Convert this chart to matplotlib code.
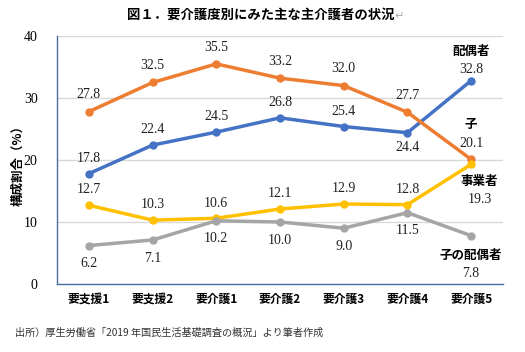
import matplotlib
matplotlib.use("Agg")
import matplotlib.pyplot as plt

categories = ["要支援1", "要支援2", "要介護1", "要介護2", "要介護3", "要介護4", "要介護5"]
spouse = [17.8, 22.4, 24.5, 26.8, 25.4, 24.4, 32.8]
child = [27.8, 32.5, 35.5, 33.2, 32.0, 27.7, 20.1]
business = [12.7, 10.3, 10.6, 12.1, 12.9, 12.8, 19.3]
child_spouse = [6.2, 7.1, 10.2, 10.0, 9.0, 11.5, 7.8]
yticks = [0, 10, 20, 30, 40]

JP = ["Noto Sans CJK JP", "DejaVu Sans"]
NUM = ["Liberation Serif", "DejaVu Serif"]

fig = plt.figure(figsize=(5.25, 3.52), dpi=100)
ax = fig.add_axes([57/525, 1-284/352, (503-57)/525, (284-36)/352])

x = list(range(len(categories)))
series = [
    (spouse, "#4472C4", "配偶者"),
    (child, "#ED7D31", "子"),
    (business, "#FFC000", "事業者"),
    (child_spouse, "#A5A5A5", "子の配偶者"),
]
for vals, col, name in series:
    ax.plot(x, vals, color=col, lw=2.5, marker="o", ms=5, zorder=3)

ax.set_xlim(-0.5, 6.5)
ax.set_ylim(0, 40)
ax.set_yticks(yticks)
ax.set_yticklabels([str(t) for t in yticks], fontfamily=NUM, fontsize=10)
ax.set_xticks(x)
ax.set_xticklabels(categories, fontfamily=JP, fontsize=8.5, fontweight="bold")
ax.tick_params(length=0, pad=6)
ax.tick_params(axis="y", pad=14)
ax.grid(axis="y", color="#D9D9D9", lw=1)
ax.set_axisbelow(True)
for s in ["top", "right"]:
    ax.spines[s].set_visible(False)
for s in ["left", "bottom"]:
    ax.spines[s].set_color("#4A6FA5")
    ax.spines[s].set_linewidth(1)

def lab(xi, v, dy, dx=0):
    ax.annotate(f"{v:.1f}", (xi, v), xytext=(dx, dy), textcoords="offset points",
                ha="center", va="center", fontfamily=NUM, fontsize=10, color="#222222")

def name(xi, v, s, dy, dx=0):
    ax.annotate(s, (xi, v), xytext=(dx, dy), textcoords="offset points",
                ha="center", va="center", fontfamily=JP, fontsize=9, fontweight="bold")

for i in range(6):
    lab(i, child[i], 12)
    lab(i, business[i], 11)
    lab(i, child_spouse[i], -13)
    if i == 5:
        lab(i, spouse[i], -11)
    else:
        lab(i, spouse[i], 11)

# last category labels
lab(6, spouse[6], 8)
name(6, spouse[6], "配偶者", 21)
lab(6, child[6], 11.5)
name(6, child[6], "子", 25)
name(6, business[6], "事業者", -12, 6)
lab(6, business[6], -25, 6)
name(6, child_spouse[6], "子の配偶者", -14)
lab(6, child_spouse[6], -27)

fig.text(18/525, 1-162/352, "構成割合（%）", rotation=90, ha="center", va="center",
         fontfamily=JP, fontsize=9, fontweight="bold")
fig.text(261/525, 1-15/352, "図１．要介護度別にみた主な主介護者の状況", ha="center", va="center",
         fontfamily=JP, fontsize=9.6, fontweight="bold")
fig.text(394/525, 1-16/352, "↵", ha="left", va="center",
         fontfamily=["DejaVu Sans"], fontsize=8, color="#AAAAAA")
fig.text(15/525, 1-333/352, "出所）厚生労働省「2019 年国民生活基礎調査の概況」より筆者作成", ha="left", va="center",
         fontfamily=JP, fontsize=7.3, color="#333333")

fig.savefig("out.png", dpi=100)
